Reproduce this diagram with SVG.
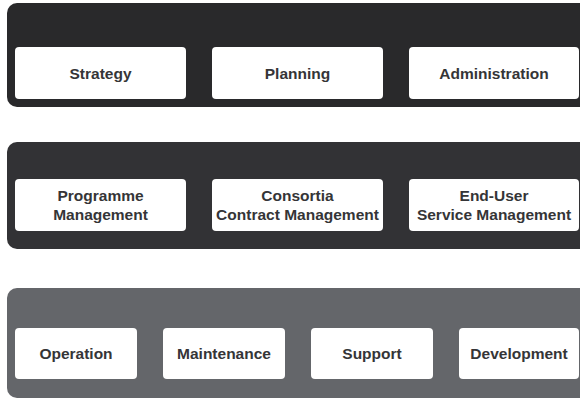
<svg xmlns="http://www.w3.org/2000/svg" width="580" height="398" viewBox="0 0 580 398">
<style>
.band1{fill:#29292b}
.band2{fill:#323235}
.band3{fill:#64666a}
.box{fill:#ffffff}
.lbl{font-family:"Liberation Sans",Arial,Helvetica,sans-serif;font-weight:700;font-size:15.5px;fill:#353537;text-anchor:middle}
</style>
<rect x="0" y="0" width="580" height="398" fill="#ffffff"/>
<g id="layer-1">
<rect class="band1" x="7" y="3" width="590" height="104" rx="10"/>
</g>
<g id="layer-2">
<rect class="band2" x="7" y="142" width="590" height="107" rx="10"/>
</g>
<g id="layer-3">
<rect class="band3" x="7" y="288" width="590" height="110" rx="10"/>
</g>
<g id="strategy"><rect class="box" x="15" y="47" width="171" height="52" rx="4"/><text class="lbl" x="100.5" y="78.5">Strategy</text></g>
<g id="planning"><rect class="box" x="212" y="47" width="171" height="52" rx="4"/><text class="lbl" x="297.5" y="78.5">Planning</text></g>
<g id="administration"><rect class="box" x="409" y="47" width="170" height="52" rx="4"/><text class="lbl" x="494" y="78.5">Administration</text></g>
<g id="programme"><rect class="box" x="15" y="179" width="171" height="52" rx="4"/><text class="lbl" x="100.5" y="201">Programme</text><text class="lbl" x="100.5" y="219.5">Management</text></g>
<g id="consortia"><rect class="box" x="212" y="179" width="171" height="52" rx="4"/><text class="lbl" x="297.5" y="201">Consortia</text><text class="lbl" x="297.5" y="219.5">Contract Management</text></g>
<g id="end-user"><rect class="box" x="409" y="179" width="170" height="52" rx="4"/><text class="lbl" x="494" y="201">End-User</text><text class="lbl" x="494" y="219.5">Service Management</text></g>
<g id="operation"><rect class="box" x="15" y="328" width="122" height="51" rx="4"/><text class="lbl" x="76" y="359">Operation</text></g>
<g id="maintenance"><rect class="box" x="163" y="328" width="122" height="51" rx="4"/><text class="lbl" x="224" y="359">Maintenance</text></g>
<g id="support"><rect class="box" x="311" y="328" width="122" height="51" rx="4"/><text class="lbl" x="372" y="359">Support</text></g>
<g id="development"><rect class="box" x="459" y="328" width="120" height="51" rx="4"/><text class="lbl" x="519" y="359">Development</text></g>
<g id="connectors"></g>
</svg>
